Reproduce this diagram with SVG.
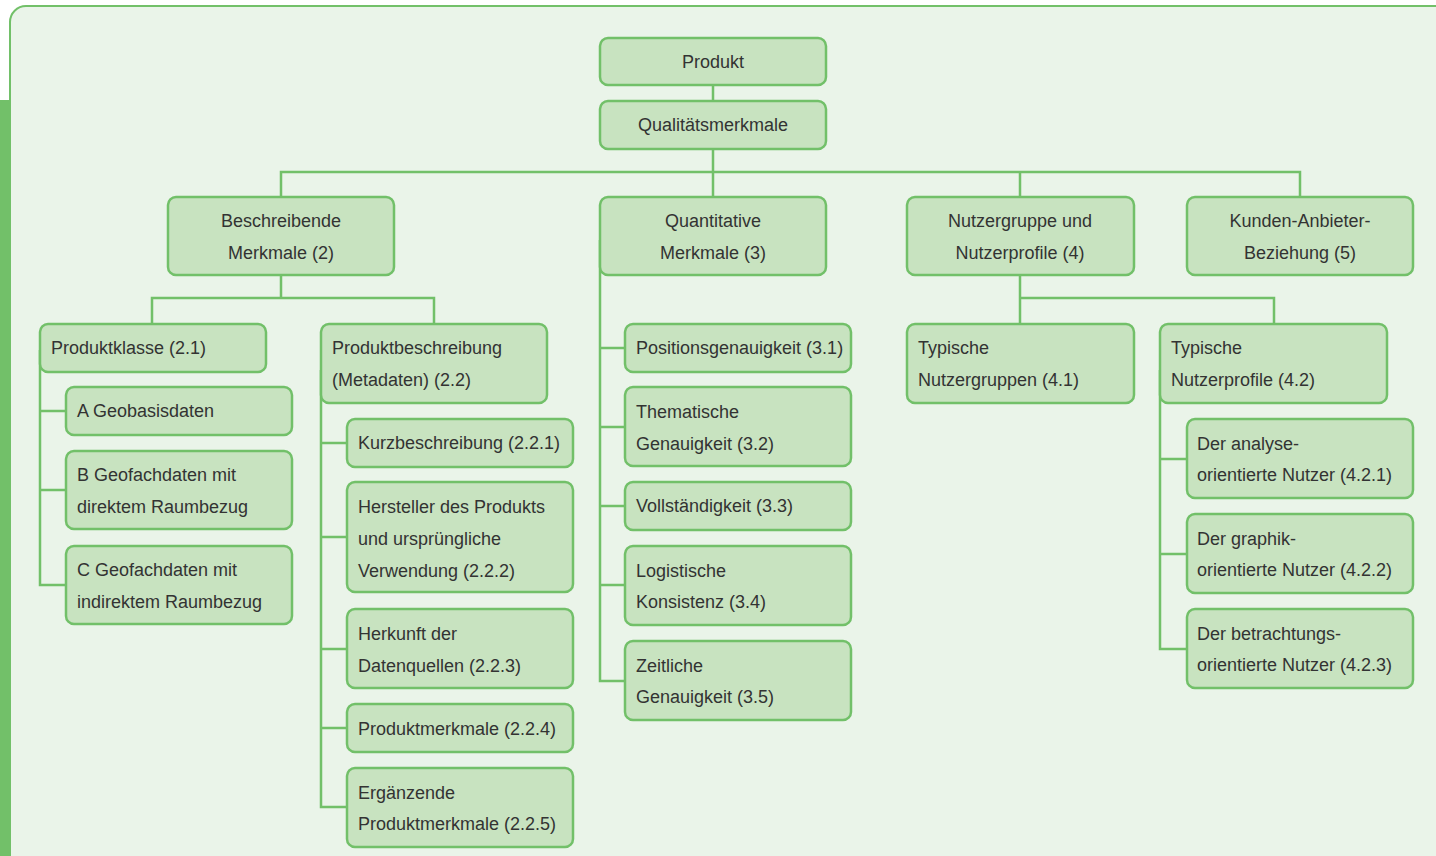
<svg xmlns="http://www.w3.org/2000/svg" width="1436" height="856" viewBox="0 0 1436 856">
<style>
.n rect{fill:#c8e3c0;stroke:#72c069;stroke-width:2.5}
.n text{font-family:"Liberation Sans",Arial,sans-serif;font-size:18px;fill:#333}
.c{text-anchor:middle}
#connectors path{fill:none;stroke:#72c069;stroke-width:2.5}
</style>
<rect x="0" y="100" width="11" height="756" fill="#72c069"/>
<path d="M10 857 V22 A16 16 0 0 1 26 6 H1437 V857 Z" fill="#eaf4e9" stroke="#72c069" stroke-width="2"/>
<g id="connectors">
<path d="M713 85 V101 M713 149 V197 M281 197 V172 H1300 V197 M1020 172 V197"/>
<path d="M281 275 V298 M152 324 V298 H434 V324"/>
<path d="M40 350 V585 H66 M40 411 H66 M40 490 H66"/>
<path d="M321 370 V807 H347 M321 443 H347 M321 537 H347 M321 649 H347 M321 728 H347"/>
<path d="M600 240 V681 H625 M600 348 H625 M600 427 H625 M600 506 H625 M600 585 H625"/>
<path d="M1020 275 V298 H1274 V324 M1020 298 V324"/>
<path d="M1160 370 V649 H1187 M1160 459 H1187 M1160 554 H1187"/>
</g>
<g id="n-produkt" class="n"><rect x="600" y="38" width="226" height="47" rx="8"/><text class="c" x="713" y="68">Produkt</text></g>
<g id="n-qualitaet" class="n"><rect x="600" y="101" width="226" height="48" rx="8"/><text class="c" x="713" y="131">Qualitätsmerkmale</text></g>
<g id="n-2" class="n"><rect x="168" y="197" width="226" height="78" rx="8"/><text class="c" x="281" y="227">Beschreibende</text><text class="c" x="281" y="259">Merkmale (2)</text></g>
<g id="n-3" class="n"><rect x="600" y="197" width="226" height="78" rx="8"/><text class="c" x="713" y="227">Quantitative</text><text class="c" x="713" y="259">Merkmale (3)</text></g>
<g id="n-4" class="n"><rect x="907" y="197" width="227" height="78" rx="8"/><text class="c" x="1020" y="227">Nutzergruppe und</text><text class="c" x="1020" y="259">Nutzerprofile (4)</text></g>
<g id="n-5" class="n"><rect x="1187" y="197" width="226" height="78" rx="8"/><text class="c" x="1300" y="227">Kunden-Anbieter-</text><text class="c" x="1300" y="259">Beziehung (5)</text></g>
<g id="n-2-1" class="n"><rect x="40" y="324" width="226" height="48" rx="8"/><text x="51" y="354">Produktklasse (2.1)</text></g>
<g id="n-a" class="n"><rect x="66" y="387" width="226" height="48" rx="8"/><text x="77" y="417">A Geobasisdaten</text></g>
<g id="n-b" class="n"><rect x="66" y="451" width="226" height="78" rx="8"/><text x="77" y="481">B Geofachdaten mit</text><text x="77" y="513">direktem Raumbezug</text></g>
<g id="n-c" class="n"><rect x="66" y="546" width="226" height="78" rx="8"/><text x="77" y="576">C Geofachdaten mit</text><text x="77" y="608">indirektem Raumbezug</text></g>
<g id="n-2-2" class="n"><rect x="321" y="324" width="226" height="79" rx="8"/><text x="332" y="354">Produktbeschreibung</text><text x="332" y="386">(Metadaten) (2.2)</text></g>
<g id="n-2-2-1" class="n"><rect x="347" y="419" width="226" height="48" rx="8"/><text x="358" y="449">Kurzbeschreibung (2.2.1)</text></g>
<g id="n-2-2-2" class="n"><rect x="347" y="482" width="226" height="110" rx="8"/><text x="358" y="513">Hersteller des Produkts</text><text x="358" y="545">und ursprüngliche</text><text x="358" y="577">Verwendung (2.2.2)</text></g>
<g id="n-2-2-3" class="n"><rect x="347" y="609" width="226" height="79" rx="8"/><text x="358" y="640">Herkunft der</text><text x="358" y="672">Datenquellen (2.2.3)</text></g>
<g id="n-2-2-4" class="n"><rect x="347" y="704" width="226" height="48" rx="8"/><text x="358" y="735">Produktmerkmale (2.2.4)</text></g>
<g id="n-2-2-5" class="n"><rect x="347" y="768" width="226" height="79" rx="8"/><text x="358" y="799">Ergänzende</text><text x="358" y="830">Produktmerkmale (2.2.5)</text></g>
<g id="n-3-1" class="n"><rect x="625" y="324" width="226" height="48" rx="8"/><text x="636" y="354">Positionsgenauigkeit (3.1)</text></g>
<g id="n-3-2" class="n"><rect x="625" y="387" width="226" height="79" rx="8"/><text x="636" y="418">Thematische</text><text x="636" y="450">Genauigkeit (3.2)</text></g>
<g id="n-3-3" class="n"><rect x="625" y="482" width="226" height="48" rx="8"/><text x="636" y="512">Vollständigkeit (3.3)</text></g>
<g id="n-3-4" class="n"><rect x="625" y="546" width="226" height="79" rx="8"/><text x="636" y="577">Logistische</text><text x="636" y="608">Konsistenz (3.4)</text></g>
<g id="n-3-5" class="n"><rect x="625" y="641" width="226" height="79" rx="8"/><text x="636" y="672">Zeitliche</text><text x="636" y="703">Genauigkeit (3.5)</text></g>
<g id="n-4-1" class="n"><rect x="907" y="324" width="227" height="79" rx="8"/><text x="918" y="354">Typische</text><text x="918" y="386">Nutzergruppen (4.1)</text></g>
<g id="n-4-2" class="n"><rect x="1160" y="324" width="227" height="79" rx="8"/><text x="1171" y="354">Typische</text><text x="1171" y="386">Nutzerprofile (4.2)</text></g>
<g id="n-4-2-1" class="n"><rect x="1187" y="419" width="226" height="79" rx="8"/><text x="1197" y="450">Der analyse-</text><text x="1197" y="481">orientierte Nutzer (4.2.1)</text></g>
<g id="n-4-2-2" class="n"><rect x="1187" y="514" width="226" height="79" rx="8"/><text x="1197" y="545">Der graphik-</text><text x="1197" y="576">orientierte Nutzer (4.2.2)</text></g>
<g id="n-4-2-3" class="n"><rect x="1187" y="609" width="226" height="79" rx="8"/><text x="1197" y="640">Der betrachtungs-</text><text x="1197" y="671">orientierte Nutzer (4.2.3)</text></g>
</svg>
